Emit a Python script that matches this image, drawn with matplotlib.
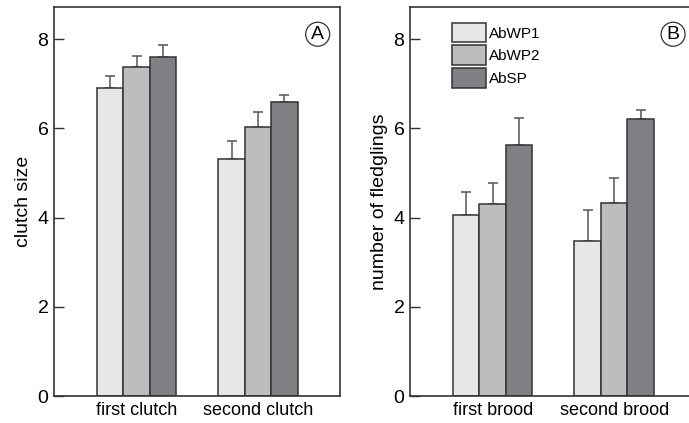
import numpy as np
import matplotlib.pyplot as plt

plt.rcParams['font.family'] = ['Liberation Sans', 'DejaVu Sans']

series = ["AbWP1", "AbWP2", "AbSP"]
colors = ["#e6e7e9", "#bcbdbf", "#808184"]

clutch_groups = ["first clutch", "second clutch"]
clutch_mean = [[6.90, 5.32], [7.38, 6.02], [7.59, 6.58]]
clutch_err = [[0.28, 0.40], [0.25, 0.34], [0.27, 0.16]]

brood_groups = ["first brood", "second brood"]
brood_mean = [[4.06, 3.48], [4.30, 4.32], [5.62, 6.20]]
brood_err = [[0.52, 0.68], [0.48, 0.57], [0.61, 0.21]]

fig = plt.figure(figsize=(6.89, 4.23), dpi=100)
axA = fig.add_axes([54 / 689, 27 / 423, 286 / 689, 389 / 423])
axB = fig.add_axes([410 / 689, 27 / 423, 282 / 689, 389 / 423])

w = 0.218


def panel(ax, groups, means, errs, ylabel, letter, xlim, letter_x):
    x = np.arange(len(groups))
    for i in range(len(series)):
        ax.bar(x + (i - 1) * w, means[i], w, color=colors[i], edgecolor="#333333",
               linewidth=1.1, label=series[i], zorder=2)
        ax.errorbar(x + (i - 1) * w, means[i], yerr=[np.zeros(len(groups)), errs[i]],
                    fmt="none", ecolor="#555555", elinewidth=1.1, capsize=3.5,
                    capthick=1.1, zorder=1)
    ax.set_xlim(*xlim)
    ax.set_ylim(0, 8.72)
    ax.set_yticks([0, 2, 4, 6, 8])
    ax.set_xticks(x)
    ax.set_xticklabels(groups, fontsize=13)
    ax.tick_params(axis="x", length=0, pad=4)
    ax.tick_params(axis="y", direction="in", length=7, width=1, labelsize=14,
                   pad=4, color="#333333")
    ax.set_ylabel(ylabel, fontsize=14, labelpad=4)
    for s in ax.spines.values():
        s.set_linewidth(1.2)
        s.set_color("#333333")
    ax.text(letter_x, 0.93, letter, transform=ax.transAxes, fontsize=14,
            ha="center", va="center",
            bbox=dict(boxstyle="circle,pad=0.18", fc="white", ec="#333333", lw=0.9))


panel(axA, clutch_groups, clutch_mean, clutch_err, "clutch size", "A",
      (-0.682, 1.676), 0.922)
panel(axB, brood_groups, brood_mean, brood_err, "number of fledglings", "B",
      (-0.68, 1.64), 0.933)

axB.legend(loc="upper left", bbox_to_anchor=(0.1, 0.995), frameon=False,
           fontsize=11, handlelength=2.2, handleheight=1.6, handletextpad=0.25,
           labelspacing=0.2, borderaxespad=0.5)

fig.savefig("out.png", dpi=100)
